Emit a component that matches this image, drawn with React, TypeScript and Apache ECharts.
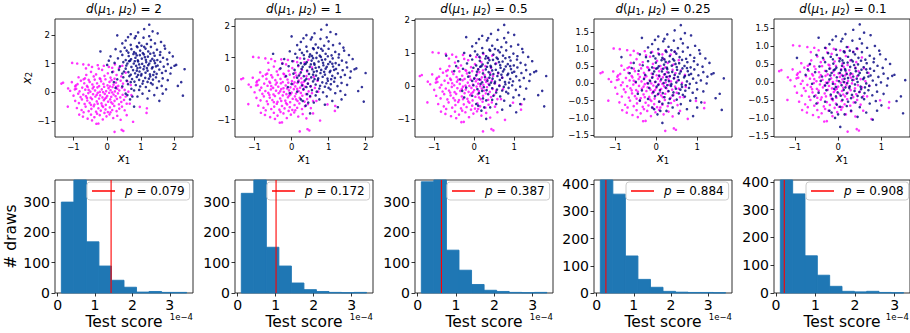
import React, { useEffect, useRef } from "react";
import * as echarts from "echarts";

// ---------------- data ----------------
const D_LABELS = ["2", "1", "0.5", "0.25", "0.1"];
const P_VALUES = ["0.079", "0.172", "0.387", "0.884", "0.908"];
const OBSERVED_SCORE = [1.43, 1.01, 0.62, 0.25, 0.21]; // x 1e-4
const HIST_RANGES = [
  [0.1, 3.45],
  [0.096, 3.39],
  [0.095, 3.37],
  [0.1, 3.47],
  [0.11, 3.23],
];
const COUNTS_D2 = [300, 373, 169, 89, 42, 19, 3, 5, 2, 2];
const COUNTS_D1 = [329, 373, 151, 89, 33, 11, 5, 2, 1, 2];
const COUNTS_D05 = [366, 372, 141, 75, 28, 9, 5, 2, 1, 2];
const COUNTS_D025 = [415, 363, 136, 50, 21, 6, 3, 2, 2, 1];
const COUNTS_D01 = [407, 357, 134, 64, 24, 6, 4, 6, 2, 1];
const HIST_COUNTS = [COUNTS_D2, COUNTS_D1, COUNTS_D05, COUNTS_D025, COUNTS_D01];
const HIST_Y_TICKS = [
  [0, 100, 200, 300],
  [0, 100, 200, 300],
  [0, 100, 200, 300],
  [0, 100, 200, 300, 400],
  [0, 100, 200, 300, 400],
];
const HIST_X_TICKS = [0, 1, 2, 3];

// navy cloud moves toward the magenta one as d shrinks (offset on both coords, relative to d=2 panel)
const NAVY_SHIFT = [0, -0.3, -0.5, -0.65, -0.75];

const MAGENTA: number[][] = [
  [-1.36, 0.3], [-1.31, 0.33], [-1.16, 0.13], [-1.17, -0.5], [-1.04, 1.02], [-0.89, 1.0], [-0.96, 0.1], [-0.93, 0.24],
  [-0.83, -0.78], [-0.71, 0.97], [-0.63, 0.83], [-0.45, -0.98], [-0.32, -1.1], [-0.26, -1.09], [0.22, -1.38], [0.43, -1.31],
  [0.48, -1.35], [0.77, -1.03], [0.97, -0.51], [1.18, -0.56], [1.17, -0.72], [0.67, -0.4], [0.23, 0.97], [-0.28, 0.94],
  [-0.85, 0.52], [-0.62, 0.6], [-0.55, 0.43], [-0.48, 0.71], [-0.4, 0.55], [-0.33, 0.62], [-0.22, 0.48], [-0.15, 0.78],
  [-0.08, 0.57], [0.02, 0.66], [0.1, 0.51], [0.18, 0.72], [0.28, 0.6], [0.35, 0.84], [0.42, 0.55], [-0.7, 0.45],
  [-0.25, 0.82], [0.05, 0.88], [0.55, 0.68], [-0.45, 0.88],
  [-1.05, 0.35], [-0.88, 0.28], [-0.78, 0.4], [-0.68, 0.31], [-0.6, 0.22], [-0.52, 0.36], [-0.44, 0.27], [-0.37, 0.44],
  [-0.3, 0.31], [-0.24, 0.21], [-0.18, 0.38], [-0.11, 0.29], [-0.05, 0.45], [0.01, 0.24], [0.07, 0.36], [0.13, 0.42],
  [0.19, 0.26], [0.26, 0.33], [0.33, 0.22], [0.4, 0.4], [0.47, 0.3], [0.6, 0.38], [-0.66, 0.48], [-0.2, 0.46],
  [0.22, 0.47], [-0.95, 0.2], [0.7, 0.25],
  [-1.1, 0.05], [-0.92, 0.12], [-0.82, 0.03], [-0.74, 0.16], [-0.65, 0.09], [-0.58, 0.18], [-0.5, 0.02], [-0.43, 0.13],
  [-0.36, 0.06], [-0.29, 0.17], [-0.22, 0.01], [-0.16, 0.1], [-0.09, 0.19], [-0.03, 0.04], [0.04, 0.14], [0.1, 0.07],
  [0.16, 0.18], [0.23, 0.03], [0.3, 0.12], [0.36, 0.06], [0.44, 0.16], [0.52, 0.08], [0.63, 0.02], [-0.4, 0.19],
  [-0.12, 0.0], [0.08, 0.2], [-0.55, 0.08], [0.27, 0.19],
  [-1.0, -0.12], [-0.86, -0.05], [-0.79, -0.17], [-0.71, -0.08], [-0.63, -0.14], [-0.56, -0.03], [-0.49, -0.19], [-0.42, -0.07],
  [-0.35, -0.15], [-0.28, -0.02], [-0.21, -0.11], [-0.14, -0.18], [-0.07, -0.06], [0.0, -0.13], [0.06, -0.02], [0.12, -0.16],
  [0.19, -0.08], [0.25, -0.14], [0.32, -0.04], [0.39, -0.18], [0.46, -0.09], [0.55, -0.15], [-0.31, -0.09], [-0.03, -0.19],
  [0.15, -0.01], [-0.6, -0.2], [0.72, -0.1],
  [-0.95, -0.3], [-0.84, -0.38], [-0.75, -0.25], [-0.67, -0.41], [-0.59, -0.29], [-0.52, -0.37], [-0.45, -0.24], [-0.38, -0.43],
  [-0.31, -0.32], [-0.24, -0.22], [-0.17, -0.39], [-0.1, -0.28], [-0.04, -0.44], [0.03, -0.33], [0.09, -0.25], [0.16, -0.4],
  [0.22, -0.3], [0.29, -0.23], [0.35, -0.42], [0.42, -0.34], [0.5, -0.27], [-0.28, -0.4], [-0.48, -0.44], [0.12, -0.35],
  [0.58, -0.4], [-0.07, -0.23],
  [-0.9, -0.55], [-0.76, -0.62], [-0.64, -0.5], [-0.55, -0.66], [-0.47, -0.58], [-0.4, -0.49], [-0.33, -0.68], [-0.26, -0.56],
  [-0.19, -0.64], [-0.12, -0.51], [-0.05, -0.6], [0.02, -0.69], [0.08, -0.53], [0.15, -0.62], [0.21, -0.48], [0.28, -0.66],
  [0.36, -0.57], [0.44, -0.5], [0.52, -0.63], [-0.7, -0.7], [-0.15, -0.47], [0.1, -0.7],
  [-0.72, -0.85], [-0.58, -0.92], [-0.48, -0.78], [-0.38, -0.87], [-0.22, -0.8], [-0.13, -0.95], [-0.02, -0.84], [0.07, -0.77],
  [0.18, -0.9], [0.3, -0.82], [0.4, -0.96], [-0.3, -0.75], [0.58, -0.8], [-0.08, -0.72],
  [-0.55, 0.95], [-0.1, 0.92], [0.15, 0.85], [0.45, 0.92],
];

// positions as seen in the d = 2 panel
const NAVY: number[][] = [
  [2.3, 0.8], [2.25, -0.12], [2.1, 0.22], [2.2, 0.35], [1.25, 2.35], [1.1, 2.2], [0.3, 1.98], [0.85, 1.95],
  [1.5, 2.05], [-0.2, 1.42], [1.55, -0.3], [0.8, -0.5], [0.75, -0.15], [0.6, -0.1], [2.0, 0.92], [1.9, 0.85],
  [0.05, 1.1], [0.25, 0.15], [0.2, 0.35],
  [0.55, 1.8], [0.7, 1.65], [0.82, 1.88], [0.95, 1.72], [1.08, 1.9], [1.18, 1.68], [1.3, 1.82], [1.42, 1.7],
  [1.6, 1.75], [0.62, 1.92], [1.02, 1.62], [1.25, 1.95], [0.45, 1.7], [0.88, 1.6], [1.7, 1.62],
  [0.25, 1.5], [0.4, 1.42], [0.52, 1.55], [0.63, 1.38], [0.72, 1.5], [0.8, 1.4], [0.9, 1.57], [0.98, 1.45],
  [1.06, 1.36], [1.14, 1.52], [1.22, 1.42], [1.3, 1.58], [1.38, 1.37], [1.48, 1.48], [1.58, 1.4], [1.72, 1.52],
  [1.85, 1.38], [0.85, 1.35], [1.1, 1.58], [0.58, 1.45],
  [0.1, 1.25], [0.32, 1.18], [0.45, 1.3], [0.55, 1.12], [0.64, 1.26], [0.71, 1.15], [0.78, 1.33], [0.84, 1.2],
  [0.91, 1.11], [0.97, 1.29], [1.03, 1.17], [1.09, 1.32], [1.15, 1.13], [1.21, 1.24], [1.28, 1.34], [1.34, 1.16],
  [1.41, 1.27], [1.49, 1.12], [1.57, 1.3], [1.66, 1.2], [1.78, 1.14], [1.95, 1.25], [0.88, 1.28], [1.12, 1.22],
  [0.68, 1.1], [1.4, 1.1],
  [0.0, 0.95], [0.22, 1.02], [0.38, 0.9], [0.48, 1.05], [0.57, 0.93], [0.65, 1.08], [0.72, 0.88], [0.79, 1.0],
  [0.86, 0.92], [0.92, 1.07], [0.98, 0.86], [1.04, 0.99], [1.1, 0.9], [1.16, 1.05], [1.22, 0.94], [1.29, 1.09],
  [1.35, 0.87], [1.42, 1.01], [1.5, 0.93], [1.58, 1.06], [1.68, 0.89], [1.8, 0.98], [2.05, 0.95], [0.95, 0.97],
  [1.25, 1.0], [0.6, 1.0], [1.45, 0.9], [0.82, 1.08],
  [0.15, 0.7], [0.35, 0.78], [0.45, 0.65], [0.55, 0.82], [0.63, 0.7], [0.7, 0.61], [0.77, 0.77], [0.83, 0.66],
  [0.9, 0.84], [0.96, 0.72], [1.02, 0.63], [1.08, 0.8], [1.14, 0.68], [1.2, 0.75], [1.27, 0.62], [1.33, 0.83],
  [1.4, 0.71], [1.47, 0.64], [1.55, 0.79], [1.63, 0.67], [1.74, 0.74], [1.88, 0.65], [0.88, 0.75], [1.18, 0.84],
  [0.5, 0.72], [1.37, 0.6],
  [0.3, 0.45], [0.48, 0.52], [0.58, 0.4], [0.66, 0.56], [0.74, 0.46], [0.81, 0.37], [0.88, 0.53], [0.95, 0.43],
  [1.01, 0.58], [1.07, 0.39], [1.13, 0.5], [1.2, 0.36], [1.28, 0.55], [1.36, 0.44], [1.45, 0.52], [1.54, 0.38],
  [1.65, 0.48], [1.8, 0.42], [0.92, 0.6], [1.24, 0.47], [0.7, 0.35],
  [0.45, 0.2], [0.62, 0.28], [0.72, 0.12], [0.85, 0.25], [0.95, 0.08], [1.05, 0.3], [1.15, 0.18], [1.25, 0.05],
  [1.35, 0.27], [1.48, 0.15], [1.62, 0.22], [1.75, 0.1], [0.98, 0.2], [1.3, 0.32], [0.8, 0.06],
  [0.55, -0.05], [0.9, -0.15], [1.05, -0.05], [1.2, -0.22], [1.4, -0.1], [0.68, -0.25], [1.65, -0.05],
  [0.92, 2.08], [1.35, 2.12], [0.7, 2.02],
];

// axis extents / ticks of the scatter panels
const SC_X_RANGE = [[-1.55, 2.55], [-1.53, 2.2], [-1.48, 1.97], [-1.52, 1.85], [-1.48, 1.66]];
const SC_Y_RANGE = [[-1.56, 2.55], [-1.56, 2.24], [-1.55, 2.03], [-1.56, 1.88], [-1.53, 1.75]];
const SC_X_TICKS = [[-1, 0, 1, 2], [-1, 0, 1, 2], [-1, 0, 1], [-1, 0, 1], [-1, 0, 1]];
const SC_Y_TICKS = [
  [-1, 0, 1, 2],
  [-1, 0, 1, 2],
  [-1, 0, 1, 2],
  [-1.5, -1, -0.5, 0, 0.5, 1, 1.5],
  [-1.5, -1, -0.5, 0, 0.5, 1, 1.5],
];
const HIST_X_RANGE = [[-0.07, 3.62], [-0.07, 3.56], [-0.07, 3.53], [-0.07, 3.64], [-0.05, 3.39]];

// ---------------- layout ----------------
const FONT = "DejaVu Sans";
const LEFTS = [55, 235, 415, 594, 774];
const PW = 138;
const TOP1 = 19, H1 = 118;
const TOP2 = 180, H2 = 113;

const minus = (s: string) => s.replace("-", "\u2212");

function buildOption() {
  const grid: any[] = [];
  const xAxis: any[] = [];
  const yAxis: any[] = [];
  const series: any[] = [];
  const legend: any[] = [];
  const graphic: any[] = [];

  const frame = { show: true, borderColor: "#1a1a1a", borderWidth: 0.9, backgroundColor: "transparent" };
  const noLine = { show: false, onZero: false };
  const tick = (vals: number[]) => ({ show: true, inside: false, length: 3.5, customValues: vals, lineStyle: { color: "#000", width: 0.8 } });
  const subRich = {
    i: { fontStyle: "italic", fontFamily: FONT, fontSize: 12, color: "#000" },
    s: { fontFamily: FONT, fontSize: 8.5, color: "#000", padding: [5, 0, 0, 0] },
  };

  for (let k = 0; k < 5; k++) {
    grid.push({ left: LEFTS[k], top: TOP1, width: PW, height: H1, ...frame });
    grid.push({ left: LEFTS[k], top: TOP2, width: PW, height: H2, ...frame });
  }

  for (let k = 0; k < 5; k++) {
    const gs = 2 * k, gh = 2 * k + 1;
    const yDecimal = SC_Y_TICKS[k].some((v) => !Number.isInteger(v));
    xAxis[gs] = {
      type: "value", gridIndex: gs, position: "bottom", min: SC_X_RANGE[k][0], max: SC_X_RANGE[k][1],
      axisLine: noLine, splitLine: { show: false }, axisTick: tick(SC_X_TICKS[k]),
      axisLabel: { customValues: SC_X_TICKS[k], formatter: (v: number) => minus(String(v)), fontSize: 8.5, fontFamily: FONT, color: "#000", margin: 5 },
      name: "{i|x}{s|1}", nameLocation: "middle", nameGap: 14,
      nameTextStyle: { fontFamily: FONT, fontSize: 12, color: "#000", rich: subRich },
    };
    yAxis[gs] = {
      type: "value", gridIndex: gs, position: "left", min: SC_Y_RANGE[k][0], max: SC_Y_RANGE[k][1],
      axisLine: noLine, splitLine: { show: false }, axisTick: tick(SC_Y_TICKS[k]),
      axisLabel: {
        customValues: SC_Y_TICKS[k],
        formatter: (v: number) => minus(yDecimal ? v.toFixed(1) : String(v)),
        fontSize: 8.5, fontFamily: FONT, color: "#000", margin: 5,
      },
      name: k === 0 ? "{i|x}{s|2}" : "", nameLocation: "middle", nameGap: 18,
      nameTextStyle: { fontFamily: FONT, fontSize: 12, color: "#000", rich: subRich },
    };
    const ymax = Math.max(...HIST_COUNTS[k]);
    xAxis[gh] = {
      type: "value", gridIndex: gh, position: "bottom", min: HIST_X_RANGE[k][0], max: HIST_X_RANGE[k][1],
      axisLine: noLine, splitLine: { show: false }, axisTick: tick(HIST_X_TICKS),
      axisLabel: { customValues: HIST_X_TICKS, formatter: (v: number) => String(v), fontSize: 14, fontFamily: FONT, color: "#000", margin: 5 },
      name: "Test score", nameLocation: "middle", nameGap: 21,
      nameTextStyle: { fontFamily: FONT, fontSize: 15.5, color: "#000" },
    };
    yAxis[gh] = {
      type: "value", gridIndex: gh, position: "left", min: 0, max: ymax,
      axisLine: noLine, splitLine: { show: false }, axisTick: tick(HIST_Y_TICKS[k]),
      axisLabel: { customValues: HIST_Y_TICKS[k], formatter: (v: number) => String(v), fontSize: 14, fontFamily: FONT, color: "#000", margin: 5 },
      name: k === 0 ? "# draws" : "", nameLocation: "middle", nameGap: 34,
      nameTextStyle: { fontFamily: FONT, fontSize: 15.5, color: "#000" },
    };

    // scatter series
    const shift = NAVY_SHIFT[k];
    series.push({
      type: "scatter", xAxisIndex: gs, yAxisIndex: gs, data: MAGENTA,
      symbol: "circle", symbolSize: 2.6, itemStyle: { color: "#ff00ff" }, silent: true,
    });
    series.push({
      type: "scatter", xAxisIndex: gs, yAxisIndex: gs,
      data: NAVY.map(([x, y]) => [x + shift, y + shift]),
      symbol: "circle", symbolSize: 2.6, itemStyle: { color: "#000080" }, silent: true,
    });

    // histogram
    const [a, b] = HIST_RANGES[k];
    const w = (b - a) / HIST_COUNTS[k].length;
    series.push({
      type: "custom", xAxisIndex: gh, yAxisIndex: gh,
      data: HIST_COUNTS[k].map((c, i) => [a + i * w, a + (i + 1) * w, c]),
      encode: { x: [0, 1], y: 2 },
      renderItem: (params: any, api: any) => {
        const p0 = api.coord([api.value(0), api.value(2)]);
        const p1 = api.coord([api.value(1), 0]);
        return {
          type: "rect",
          shape: { x: p0[0], y: p0[1], width: p1[0] - p0[0], height: p1[1] - p0[1] },
          style: { fill: "#1f77b4", stroke: "#1f77b4", lineWidth: 0.9 },
        };
      },
      silent: true, z: 2,
    });
    const lname = "obs" + k;
    series.push({
      name: lname, type: "line", xAxisIndex: gh, yAxisIndex: gh,
      data: [[OBSERVED_SCORE[k], 0], [OBSERVED_SCORE[k], ymax]],
      symbol: "none", lineStyle: { color: "#ff0000", width: 1.1 }, itemStyle: { color: "#ff0000" },
      silent: true, z: 5,
    });
    legend.push({
      data: [lname], left: LEFTS[k] + 32, top: TOP2 + 2, orient: "horizontal",
      icon: "rect", itemWidth: 23, itemHeight: 1.5,
      backgroundColor: "rgba(255,255,255,0.8)", borderColor: "#cccccc", borderWidth: 1, borderRadius: 3,
      padding: [3, 5, 3, 5], selectedMode: false,
      formatter: () => "{i|p} = " + P_VALUES[k],
      textStyle: {
        fontFamily: FONT, fontSize: 12, color: "#000", padding: [0, 0, 0, 5],
        rich: { i: { fontStyle: "italic", fontFamily: FONT, fontSize: 12, color: "#000" } },
      },
    });

    // title above scatter
    graphic.push({
      type: "text", x: LEFTS[k] + PW / 2, y: 9,
      style: {
        text: "{i|d}({i|\u03bc}{s|1}, {i|\u03bc}{s|2}) = " + D_LABELS[k],
        align: "center", verticalAlign: "middle",
        fontFamily: FONT, fontSize: 12, fill: "#000",
        rich: subRich,
      },
    });
    // offset text for histogram x-axis
    graphic.push({
      type: "text", x: Math.min(LEFTS[k] + PW, 909), y: 317,
      style: { text: "1e\u22124", align: "right", verticalAlign: "middle", fontFamily: FONT, fontSize: 8.5, fill: "#000" },
    });
  }

  return { animation: false, backgroundColor: "#ffffff", grid, xAxis, yAxis, series, legend, graphic };
}

export default function App() {
  const ref = useRef<HTMLDivElement>(null);
  useEffect(() => {
    if (!ref.current) return;
    const chart = echarts.init(ref.current, null, { renderer: "svg" });
    chart.setOption(buildOption() as any);
    return () => chart.dispose();
  }, []);
  return (
    <div
      ref={ref}
      style={{ position: "fixed", left: 0, top: 0, width: 910, height: 333, background: "#fff" }}
    />
  );
}
